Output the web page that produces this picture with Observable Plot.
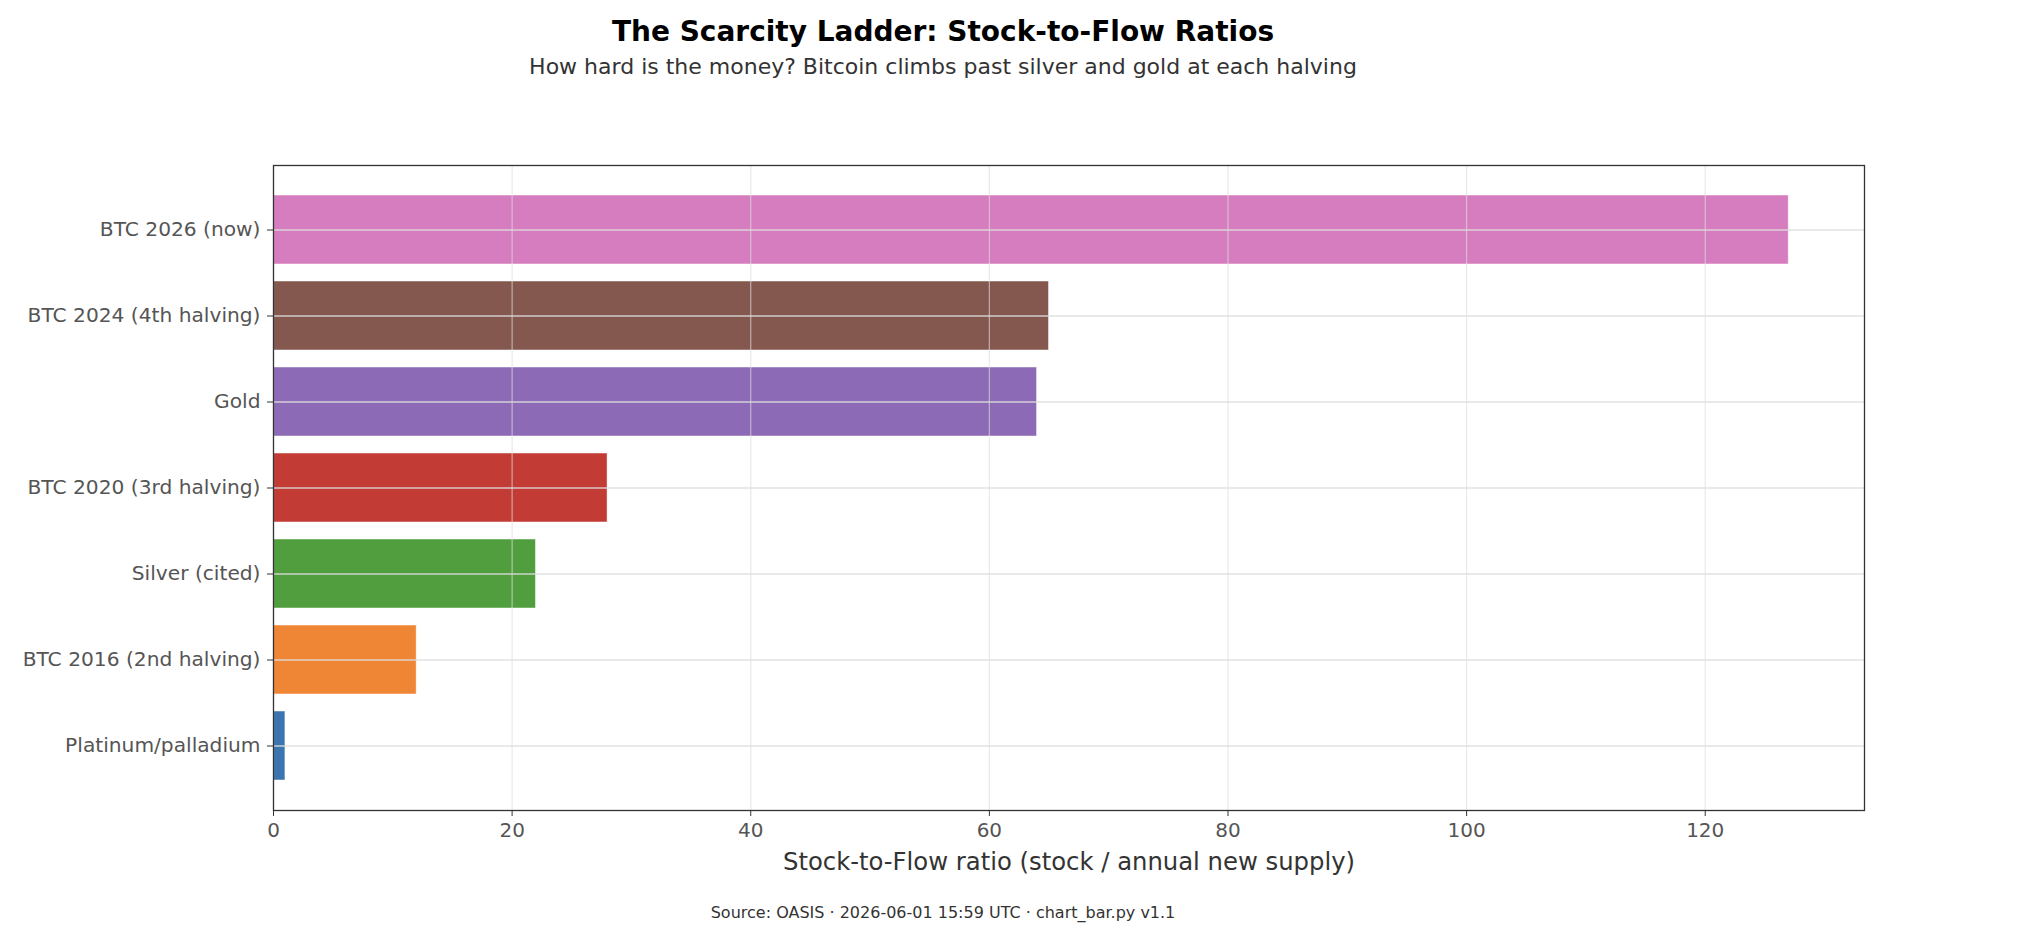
<!DOCTYPE html>
<html>
<head>
<meta charset="utf-8">
<script src="https://cdn.jsdelivr.net/npm/d3@7"></script>
<script src="https://cdn.jsdelivr.net/npm/@observablehq/plot@0.6"></script>
<style>
  html, body { margin: 0; padding: 0; background: #fff; }
  body { width: 2018px; height: 948px; position: relative; overflow: hidden; font-family: "DejaVu Sans", sans-serif; }
  .t { position: absolute; left: 0; width: 1886px; text-align: center; white-space: nowrap; }
  #title { top: 13.5px; font-size: 28px; font-weight: bold; color: #000; line-height: 36px; }
  #subtitle { top: 52.5px; font-size: 22px; color: #333; line-height: 28px; }
  #caption { top: 903px; font-size: 16px; color: #333; line-height: 20px; }
  #chart { position: absolute; left: 0; top: 100px; }
</style>
</head>
<body>
<div id="title" class="t">The Scarcity Ladder: Stock-to-Flow Ratios</div>
<div id="subtitle" class="t">How hard is the money? Bitcoin climbs past silver and gold at each halving</div>
<div id="chart"></div>
<div id="caption" class="t">Source: OASIS · 2026-06-01 15:59 UTC · chart_bar.py v1.1</div>
<script>
const categories = ["BTC 2026 (now)", "BTC 2024 (4th halving)", "Gold", "BTC 2020 (3rd halving)", "Silver (cited)", "BTC 2016 (2nd halving)", "Platinum/palladium"];
const ratios = [127, 65, 64, 28, 22, 12, 1];
const colors = ["#d57dbe", "#84584f", "#8c6ab5", "#c33b35", "#519e3e", "#ef8636", "#3b75af"];
const xTicks = [0, 20, 40, 60, 80, 100, 120];
const xLabel = "Stock-to-Flow ratio (stock / annual new supply)";

const data = categories.map((c, i) => ({category: c, value: ratios[i], color: colors[i]}));

const plot = Plot.plot({
  width: 2018,
  height: 780,
  marginTop: 65,
  marginBottom: 70,
  marginLeft: 273,
  marginRight: 154,
  style: {fontFamily: "DejaVu Sans, sans-serif", fontSize: "20px", color: "#555", background: "transparent"},
  x: {domain: [0, 127 * 1.05], ticks: xTicks, label: null},
  y: {domain: categories, paddingInner: 0.2, paddingOuter: 0.34, label: null},
  marks: [
    Plot.barX(data, {x: "value", y: "category", fill: "color", stroke: "#ffffff", strokeWidth: 0.8, strokeOpacity: 0.6}),
    Plot.gridX(xTicks, {stroke: "#dddddd", strokeOpacity: 0.65, strokeWidth: 1.2}),
    Plot.gridY(categories, {stroke: "#dddddd", strokeOpacity: 0.65, strokeWidth: 1.8}),
    Plot.axisX(xTicks, {tickSize: 6, tickPadding: 6, stroke: "#333", fill: "#555", fontSize: 20, label: null}),
    Plot.axisY({tickSize: 6, tickPadding: 7, stroke: "#333", fill: "#555", fontSize: 20.2, label: null}),
    Plot.text([xLabel], {frameAnchor: "bottom", dy: 52, fontSize: 24.3, fill: "#333", lineAnchor: "middle"}),
    Plot.frame({stroke: "#333", strokeWidth: 1.3})
  ]
});
document.getElementById("chart").appendChild(plot);
</script>
</body>
</html>
